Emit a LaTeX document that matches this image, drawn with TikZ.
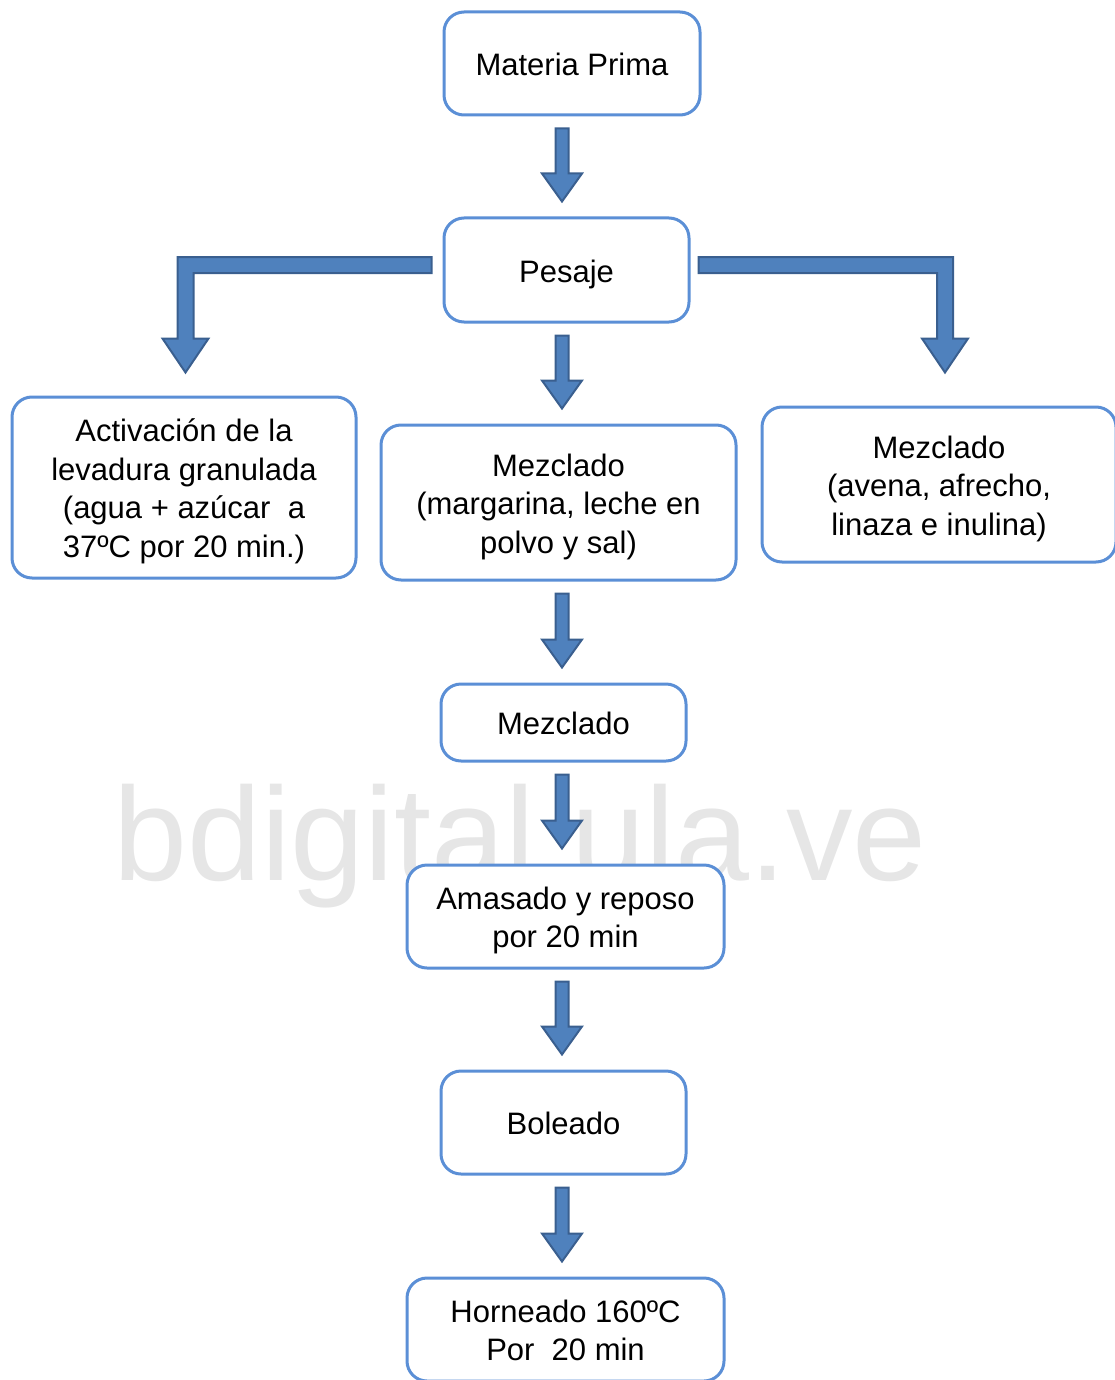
\documentclass[tikz,border=0pt]{standalone}
\usepackage{fontspec}
\setmainfont{Liberation Sans}
\usetikzlibrary{calc}

\definecolor{boxline}{HTML}{5B8FD6}
\definecolor{arrowfill}{HTML}{4F81BD}
\definecolor{arrowline}{HTML}{3A5F8F}
\definecolor{wmark}{HTML}{E6E6E6}

% struts so that every box keeps the same line boxes
\newcommand{\tstrut}{\rule{0pt}{31pt}}
\newcommand{\bstrut}{\rule[-7pt]{0pt}{7pt}}

\tikzset{
  procbox/.style={draw=boxline, line width=3, rounded corners=20, fill=white,
                  align=center, inner sep=0, font=\fontsize{31}{38.5}\selectfont,
                  execute at begin node={\tstrut}, execute at end node={\bstrut}},
  blkarrow/.style={fill=arrowfill, draw=arrowline, line width=2, line join=miter},
}

% block arrow straight down: #1 box above, #2 box below
\newcommand{\blkdown}[2]{%
  \coordinate (s) at ($(#1)+(0,12)$);
  \coordinate (t) at ($(#2)+(0,-15)$);
  \filldraw[blkarrow] ($(s)+(-6.5,0)$) -- ($(s)+(6.5,0)$) -- ($(t)+(6.5,-28)$)
    -- ($(t)+(20,-28)$) -- (t) -- ($(t)+(-20,-28)$) -- ($(t)+(-6.5,-28)$) -- cycle;}

% bent block arrow: #1 start, #2 tip, #3 = -1 (left) or 1 (right)
\newcommand{\blkbend}[3]{%
  \coordinate (c) at (#1 -| #2);
  \filldraw[blkarrow] ($(#1)+(0,-8)$) -- ($(c)+({8*(#3)},-8)$) -- ($(#2)+({8*(#3)},-34)$)
    -- ($(#2)+({23*(#3)},-34)$) -- (#2) -- ($(#2)+({-23*(#3)},-34)$)
    -- ($(#2)+({-8*(#3)},-34)$) -- ($(c)+({-8*(#3)},8)$) -- ($(#1)+(0,8)$) -- cycle;}

\begin{document}
\begin{tikzpicture}[x=1pt, y=-1pt]
\useasboundingbox (0,0) rectangle (1114,1380);

% ---- watermark -----------------------------------------------------------
\node[font=\fontsize{133}{133}\selectfont, text=wmark, anchor=base, inner sep=0]
  (wm) at (520,880) {bdigital.ula.ve};

% ---- process boxes -------------------------------------------------------
\node[procbox, minimum width=256, minimum height=103] (mp)  at (572,63.5)   {Materia Prima};
\node[procbox, minimum width=245, minimum height=104] (pes) at (566.5,270)  {Pesaje};
\node[procbox, minimum width=344, minimum height=181] (act) at (184,487.5)
  {\tstrut Activación de la\\levadura granulada\\(agua + azúcar~~a\\37ºC por 20 min.)};
\node[procbox, minimum width=355, minimum height=155] (mzc) at (558.5,502.5)
  {\tstrut Mezclado\\(margarina, leche en\\polvo y sal)};
\node[procbox, minimum width=354, minimum height=155] (mzd) at (939,484.5)
  {\tstrut Mezclado\\(avena, afrecho,\\linaza e inulina)};
\node[procbox, minimum width=245, minimum height=77]  (mez) at (563.5,722.5) {Mezclado};
\node[procbox, minimum width=317, minimum height=103] (ama) at (565.5,916.5)
  {\tstrut Amasado y reposo\\por 20 min};
\node[procbox, minimum width=245, minimum height=103] (bol) at (563.5,1122.5) {Boleado};
\node[procbox, minimum width=317, minimum height=103] (hor) at (565.5,1329.5)
  {\tstrut Horneado 160ºC\\Por~~20 min};

% ---- straight arrows on the main line ------------------------------------
\coordinate (axis) at (562,0);
\blkdown{mp.south -| axis}{pes.north -| axis}
\blkdown{pes.south -| axis}{mzc.north -| axis}
\blkdown{mzc.south -| axis}{mez.north -| axis}
\blkdown{mez.south -| axis}{ama.north -| axis}
\blkdown{ama.south -| axis}{bol.north -| axis}
\blkdown{bol.south -| axis}{hor.north -| axis}

% ---- bent arrows to the side branches ------------------------------------
\coordinate (ls) at ($(pes.west)+(-11,-5)$);
\coordinate (lt) at ($(act.north)+(1.5,-23)$);
\coordinate (rs) at ($(pes.east)+(8,-5)$);
\coordinate (rt) at ($(mzd.north)+(6,-33)$);
\blkbend{ls}{lt}{-1}
\blkbend{rs}{rt}{1}
\end{tikzpicture}
\end{document}
